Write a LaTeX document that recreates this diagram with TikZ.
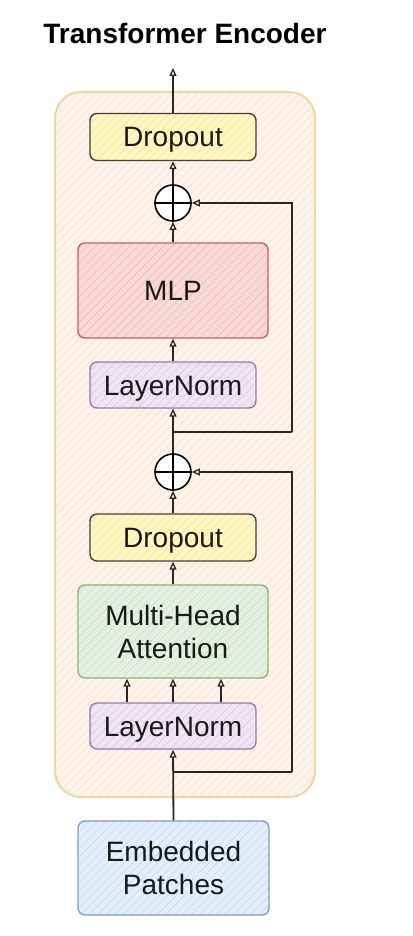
\documentclass[tikz,border=0pt]{standalone}
\usepackage{fontspec}
\setmainfont{Liberation Sans}
\usetikzlibrary{arrows.meta,patterns.meta,calc}
\definecolor{encfill}{HTML}{FDF3EA}
\definecolor{encline}{HTML}{EED9A4}
\definecolor{enchatch}{HTML}{F7E2D2}
\definecolor{dropfill}{HTML}{FFF6C4}
\definecolor{drophatch}{HTML}{F2E98A}
\definecolor{mlpfill}{HTML}{F9D9D7}
\definecolor{mlphatch}{HTML}{EEB5B2}
\definecolor{mlpline}{HTML}{C46060}
\definecolor{lnfill}{HTML}{EEE5F2}
\definecolor{lnhatch}{HTML}{D6C5DE}
\definecolor{lnline}{HTML}{9A7AAC}
\definecolor{mhafill}{HTML}{E6F0E2}
\definecolor{mhahatch}{HTML}{C8DEC2}
\definecolor{mhaline}{HTML}{86B56C}
\definecolor{embfill}{HTML}{E5EEFB}
\definecolor{embhatch}{HTML}{C3D6F2}
\definecolor{embline}{HTML}{7E9CCB}
\begin{document}
\begin{tikzpicture}[x=1pt,y=-1pt,
  box/.style={draw, rounded corners=7pt, line width=1.4pt, align=center, inner sep=0pt,
    font=\fontsize{28}{33}\selectfont, text=black!90},
  oneline/.style={text height=20pt, text depth=0pt},
  hatched/.style 2 args={preaction={fill=#1}, pattern={Lines[angle=45,distance=6pt,line width=0.6pt]}, pattern color=#2},
  adder/.style={draw, circle, line width=1.6pt, minimum size=36pt, inner sep=0pt, fill=white},
  arr/.style={draw=black!85, line width=1.3pt, -{Triangle[open, length=8pt, width=7pt, line width=1.3pt]}},
  ln/.style={draw=black!85, line width=1.3pt}]
\useasboundingbox (0,0) rectangle (412,936);
\node[font=\fontsize{28}{33}\selectfont\bfseries] (title) at (185,33) {Transformer Encoder};
\node[draw=encline, line width=2.2pt, rounded corners=26pt, hatched={encfill}{enchatch},
  minimum width=260pt, minimum height=705pt] (enc) at (185,444.5) {};
\node[box, oneline, draw=black!75, hatched={dropfill}{drophatch}, minimum width=166pt, minimum height=47pt] (drop1) at (173,137) {Dropout};
\node[adder] (add1) at (173,203) {};
\node[box, oneline, draw=mlpline, hatched={mlpfill}{mlphatch}, minimum width=190pt, minimum height=95pt] (mlp) at (173,290.5) {MLP};
\node[box, oneline, draw=lnline, hatched={lnfill}{lnhatch}, minimum width=166pt, minimum height=46pt] (ln1) at (173,385) {LayerNorm};
\node[adder] (add2) at (173,472) {};
\node[box, oneline, draw=black!75, hatched={dropfill}{drophatch}, minimum width=166pt, minimum height=47pt] (drop2) at (173,537.5) {Dropout};
\node[box, draw=mhaline, hatched={mhafill}{mhahatch}, minimum width=190pt, minimum height=93pt] (mha) at (173,631.5) {Multi-Head\\Attention};
\node[box, oneline, draw=lnline, hatched={lnfill}{lnhatch}, minimum width=166pt, minimum height=46pt] (ln2) at (173,726) {LayerNorm};
\node[box, draw=embline, hatched={embfill}{embhatch}, minimum width=191pt, minimum height=94pt] (emb) at (173.5,868) {Embedded\\Patches};
\coordinate (out) at (173,68);
\coordinate (j1) at (173,432);
\coordinate (r1) at (292,432);
\coordinate (j2) at (173,772);
\coordinate (r2) at (292,772);
\foreach \a in {add1,add2}{
  \draw[line width=1.5pt] (\a.north) -- (\a.south);
  \draw[line width=1.5pt] (\a.west) -- (\a.east);
}
\draw[arr] (drop1.north) -- (out);
\draw[arr] (add1.north) -- (drop1.south);
\draw[arr] (mlp.north) -- (add1.south);
\draw[arr] (ln1.north) -- (mlp.south);
\draw[arr] (add2.north) -- (ln1.south);
\draw[ln] (j1) -- (r1);
\draw[arr] (r1) |- (add1.east);
\draw[arr] (drop2.north) -- (add2.south);
\draw[arr] (mha.north) -- (drop2.south);
\foreach \dx in {-46,0,48}{
  \draw[arr] ($(ln2.north)+(\dx,0)$) -- ($(mha.south)+(\dx,0)$);
}
\draw[arr, line width=1.8pt] (emb.north) -- (ln2.south);
\draw[ln] (j2) -- (r2);
\draw[arr] (r2) |- (add2.east);
\end{tikzpicture}
\end{document}
